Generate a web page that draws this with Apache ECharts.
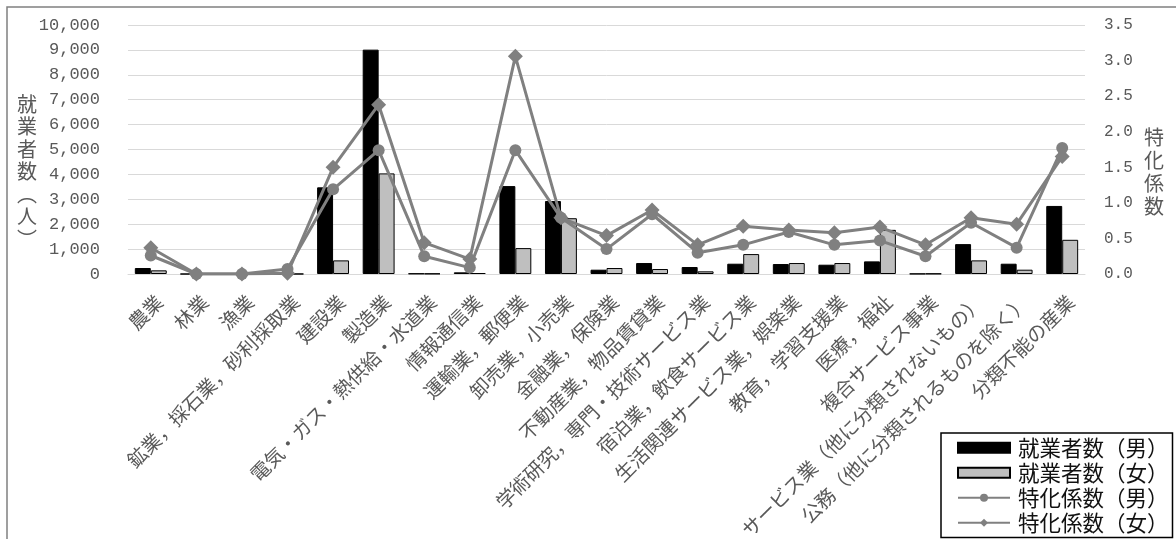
<!DOCTYPE html>
<html>
<head>
<meta charset="utf-8">
<script src="https://cdn.jsdelivr.net/npm/echarts@6/dist/echarts.min.js"></script>
<style>
html,body{margin:0;padding:0;background:#fff;}
#chart{width:1176px;height:539px;}
</style>
</head>
<body>
<div id="chart"></div>
<script>
const categories = [
  '農業','林業','漁業','鉱業，採石業，砂利採取業','建設業','製造業',
  '電気・ガス・熱供給・水道業','情報通信業','運輸業，郵便業','卸売業，小売業',
  '金融業，保険業','不動産業，物品賃貸業','学術研究，専門・技術サービス業',
  '宿泊業，飲食サービス業','生活関連サービス業，娯楽業','教育，学習支援業',
  '医療，福祉','複合サービス事業','サービス業（他に分類されないもの）',
  '公務（他に分類されるものを除く）','分類不能の産業'
];
const workersMale   = [240, 0, 0, 5, 3480, 9010, 20, 67, 3530, 2930, 173, 440, 280, 413, 400, 373, 507, 10, 1200, 413, 2733];
const workersFemale = [147, 0, 0, 2, 547, 4040, 15, 40, 1040, 2240, 240, 200, 107, 800, 440, 440, 1773, 15, 547, 173, 1373];
const coefMale      = [0.26, 0.0, 0.0, 0.07, 1.19, 1.74, 0.25, 0.09, 1.74, 0.79, 0.35, 0.84, 0.30, 0.41, 0.59, 0.41, 0.47, 0.25, 0.72, 0.37, 1.77];
const coefFemale    = [0.37, 0.0, 0.0, 0.01, 1.50, 2.38, 0.44, 0.21, 3.06, 0.79, 0.54, 0.90, 0.41, 0.67, 0.62, 0.58, 0.66, 0.41, 0.79, 0.70, 1.65];
const leftTicks = {min: 0, max: 10000, interval: 1000};
const rightTicks = {min: 0, max: 3.5, interval: 0.5};
const seriesNames = ['就業者数（男）','就業者数（女）','特化係数（男）','特化係数（女）'];
const leftAxisName = '就業者数︵人︶';
const rightAxisName = '特化係数';

const CJK = '"Noto Sans CJK JP", "Noto Sans CJK SC", sans-serif';
const NUM = '"Liberation Mono", "DejaVu Sans Mono", monospace';
const chart = echarts.init(document.getElementById('chart'), null, {renderer: 'canvas'});

const option = {
  backgroundColor: '#fff',
  animation: false,
  textStyle: {fontFamily: CJK},
  grid: {left: 128, right: 91, top: 25, bottom: 265, containLabel: false, outerBoundsMode: 'none'},
  graphic: [
    {type: 'rect', shape: {x: 7, y: 7, width: 1300, height: 700}, style: {fill: 'none', stroke: '#808080', lineWidth: 1.5}, silent: true},
    {type: 'text', left: 17, top: 93, style: {text: leftAxisName.split('').join('\n'), fontSize: 20, fontFamily: CJK, fill: '#595959', lineHeight: 22.5}},
    {type: 'text', left: 1144, top: 126, style: {text: rightAxisName.split('').join('\n'), fontSize: 20, fontFamily: CJK, fill: '#595959', lineHeight: 23}}
  ],
  legend: {
    orient: 'vertical',
    left: 941, top: 433,
    padding: [4, 4, 4, 16],
    itemGap: 3.5,
    itemWidth: 52, itemHeight: 10,
    borderColor: '#000', borderWidth: 1.5,
    backgroundColor: '#fff',
    textStyle: {fontFamily: CJK, fontSize: 21.5, color: '#111', padding: [0, 0, 0, 3]},
    data: [
      {name: seriesNames[0], icon: 'rect'},
      {name: seriesNames[1], icon: 'rect'},
      {name: seriesNames[2]},
      {name: seriesNames[3]}
    ]
  },
  xAxis: {
    type: 'category',
    data: categories,
    axisTick: {show: false},
    axisLine: {lineStyle: {color: '#D9D9D9', width: 1}},
    axisLabel: {interval: 0, rotate: 45, fontSize: 19.5, lineHeight: 24, color: '#595959', fontFamily: CJK, margin: 16, verticalAlign: 'top'}
  },
  yAxis: [
    {
      type: 'value', min: leftTicks.min, max: leftTicks.max, interval: leftTicks.interval,
      splitLine: {lineStyle: {color: '#D9D9D9', width: 1}},
      axisLine: {show: false}, axisTick: {show: false},
      axisLabel: {fontFamily: NUM, fontSize: 17, color: '#595959', margin: 28,
        formatter: v => v.toLocaleString('en-US')}
    },
    {
      type: 'value', min: rightTicks.min, max: rightTicks.max, interval: rightTicks.interval,
      splitLine: {show: false},
      axisLine: {show: false}, axisTick: {show: false},
      axisLabel: {fontFamily: NUM, fontSize: 16, color: '#595959', margin: 19,
        formatter: v => v.toFixed(1)}
    }
  ],
  series: [
    {name: seriesNames[0], type: 'bar', data: workersMale, barGap: '0%', barCategoryGap: '30%',
      itemStyle: {color: '#000', borderColor: '#000', borderWidth: 1}},
    {name: seriesNames[1], type: 'bar', data: workersFemale, barGap: '0%', barCategoryGap: '30%',
      itemStyle: {color: '#BFBFBF', borderColor: '#000', borderWidth: 1}},
    {name: seriesNames[2], type: 'line', yAxisIndex: 1, data: coefMale,
      symbol: 'circle', symbolSize: 12,
      lineStyle: {color: '#808080', width: 3}, itemStyle: {color: '#808080'}},
    {name: seriesNames[3], type: 'line', yAxisIndex: 1, data: coefFemale,
      symbol: 'diamond', symbolSize: 15,
      lineStyle: {color: '#808080', width: 3}, itemStyle: {color: '#808080'}}
  ]
};
chart.setOption(option);
</script>
</body>
</html>
